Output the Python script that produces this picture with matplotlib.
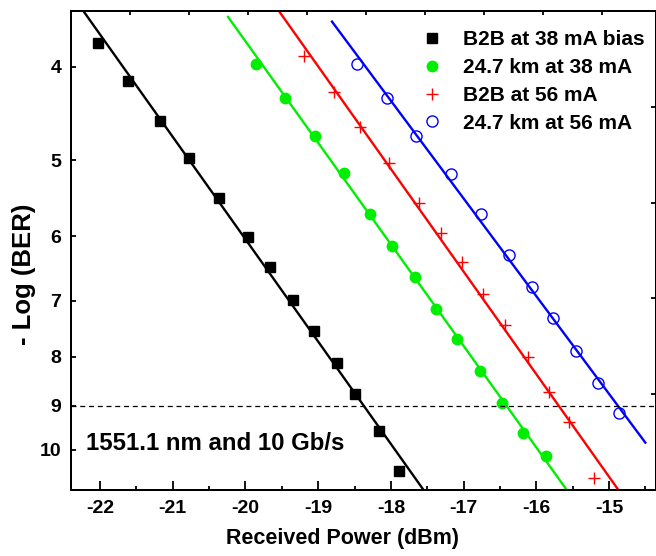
import numpy as np
import matplotlib
matplotlib.use('Agg')
import matplotlib.pyplot as plt
from matplotlib.ticker import FixedLocator, NullLocator, FixedFormatter

plt.rcParams['font.family'] = ['Liberation Sans', 'DejaVu Sans']
plt.rcParams['font.weight'] = 'bold'
plt.rcParams['axes.unicode_minus'] = False

# B2B at 38 mA bias
b2b38_x = [-22.03, -21.61, -21.17, -20.78, -20.36, -19.97, -19.66, -19.35, -19.06, -18.74, -18.49, -18.17, -17.89]
b2b38_y = [3.78, 4.14, 4.55, 4.98, 5.47, 6.01, 6.46, 6.98, 7.53, 8.13, 8.75, 9.56, 10.52]

# 24.7 km at 38 mA
km38_x = [-19.86, -19.46, -19.04, -18.65, -18.29, -17.98, -17.67, -17.38, -17.09, -16.77, -16.47, -16.18, -15.87]
km38_y = [3.97, 4.31, 4.72, 5.16, 5.69, 6.14, 6.62, 7.14, 7.67, 8.28, 8.94, 9.60, 10.15]

# B2B at 56 mA
b2b56_x = [-19.20, -18.78, -18.43, -18.03, -17.62, -17.31, -17.02, -16.73, -16.43, -16.12, -15.83, -15.55, -15.21]
b2b56_y = [3.90, 4.25, 4.62, 5.04, 5.54, 5.96, 6.38, 6.89, 7.42, 8.00, 8.70, 9.35, 10.70]

# 24.7 km at 56 mA
km56_x = [-18.46, -18.06, -17.66, -17.17, -16.76, -16.37, -16.06, -15.77, -15.45, -15.15, -14.86]
km56_y = [3.97, 4.31, 4.72, 5.17, 5.69, 6.28, 6.78, 7.29, 7.89, 8.53, 9.15]

# fitted lines (end points)
fit_b2b38_x = [-22.23, -17.55]
fit_b2b38_y = [3.50, 11.01]
fit_km38_x = [-20.24, -15.58]
fit_km38_y = [3.55, 11.01]
fit_b2b56_x = [-19.54, -14.87]
fit_b2b56_y = [3.50, 11.01]
fit_km56_x = [-18.81, -14.50]
fit_km56_y = [3.59, 9.83]

ber_limit = 9
y_ticks = [4, 5, 6, 7, 8, 9, 10]
x_ticks = [-22, -21, -20, -19, -18, -17, -16, -15]

green = '#00ee00'

fig = plt.figure(figsize=(6.56, 5.56), dpi=100)
W, H = 656, 556
left, right, top, bottom = 71, 655.5, 11, 490
ax = fig.add_axes([left / W, 1 - bottom / H, (right - left) / W, (bottom - top) / H])

ax.set_yscale('log')
ax.set_xlim(-22.40, -14.36)
ax.set_ylim(11.01, 3.50)

# fit lines
ax.plot(fit_b2b38_x, fit_b2b38_y, color='black', lw=1.7)
ax.plot(fit_km38_x, fit_km38_y, color=green, lw=1.7)
ax.plot(fit_b2b56_x, fit_b2b56_y, color='red', lw=1.7)
ax.plot(fit_km56_x, fit_km56_y, color='blue', lw=1.7)

# measured points
ax.plot(b2b38_x, b2b38_y, 's', color='black', ms=6.5, ls='none', label='B2B at 38 mA bias')
ax.plot(km38_x, km38_y, 'o', color=green, ms=7.5, ls='none', label='24.7 km at 38 mA')
ax.plot(b2b56_x, b2b56_y, '+', color='red', ms=8, mew=1.0, ls='none', label='B2B at 56 mA')
ax.plot(km56_x, km56_y, 'o', mfc='none', mec='blue', ms=8, mew=1.0, ls='none', label='24.7 km at 56 mA')

ax.axhline(ber_limit, color='black', lw=0.9, ls=(0, (4, 3)))

ax.text(-22.19, 10.0, '1551.1 nm and 10 Gb/s', fontsize=17.3, fontweight='bold', va='baseline', ha='left')

# axes ticks
ax.yaxis.set_major_locator(FixedLocator(y_ticks))
ax.yaxis.set_major_formatter(FixedFormatter([str(v) for v in y_ticks]))
ax.yaxis.set_minor_locator(NullLocator())
ax.xaxis.set_major_locator(FixedLocator(x_ticks))
ax.xaxis.set_minor_locator(FixedLocator(np.arange(-22.5, -14.3, 0.5)))
ax.tick_params(axis='x', which='major', direction='in', length=6.5, width=1.3, pad=7.5, labelsize=14)
ax.tick_params(axis='x', which='minor', direction='in', length=3, width=1.3)
ax.tick_params(axis='y', which='major', direction='in', length=3.6, width=1.3, pad=7, labelsize=14)

for s in ax.spines.values():
    s.set_linewidth(1.3)

# top and right ticks without labels
ax_top = ax.twiny()
ax_top.set_xlim(ax.get_xlim())
ax_top.xaxis.set_major_locator(FixedLocator(np.linspace(-21.59, -15.09, 9)))
ax_top.tick_params(axis='x', direction='in', length=3, width=1.3, labeltop=False)
ax_right = ax.twinx()
ax_right.set_ylim(0, 1)
ax_right.yaxis.set_major_locator(FixedLocator([0.2, 0.4, 0.6, 0.8]))
ax_right.tick_params(axis='y', direction='in', length=3.6, width=1.3, labelright=False)
for a in (ax_top, ax_right):
    for s in a.spines.values():
        s.set_linewidth(1.3)

ax.set_xlabel('Received Power (dBm)', fontsize=15.5, fontweight='bold')
ax.set_ylabel('- Log (BER)', fontsize=18.5, fontweight='bold')
ax.xaxis.set_label_coords(0.465, -0.08)
ax.yaxis.set_label_coords(-0.06, 0.451)

ax.legend(loc='upper left', bbox_to_anchor=(413 / W, 1 - 22 / H), bbox_transform=fig.transFigure,
          frameon=False, handlelength=1.0, handletextpad=1.0, labelspacing=0.42,
          borderaxespad=0, borderpad=0.4, prop={'weight': 'bold', 'size': 15})

fig.savefig('out.png', dpi=100)
